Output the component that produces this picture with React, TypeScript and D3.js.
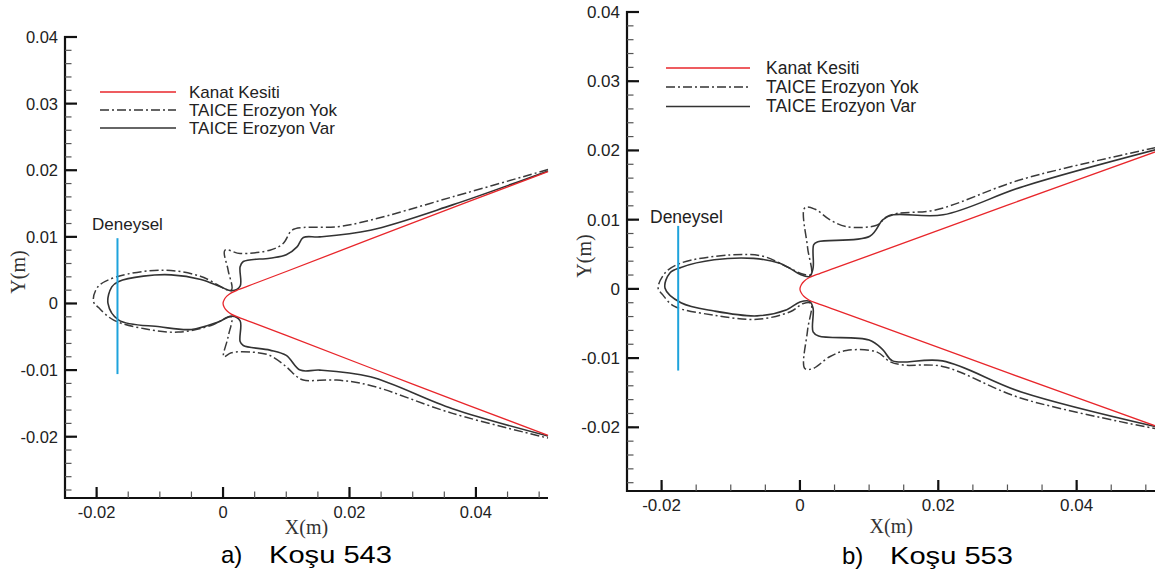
import React from 'react';
import * as d3 from 'd3';

type Pt = [number, number];

// eksenler
const xDomain: Pt = [-0.025, 0.0514];
const yDomain: Pt = [-0.0292, 0.04];
const xTicks = [-0.02, 0, 0.02, 0.04];
const xTickLabels = ['-0.02', '0', '0.02', '0.04'];
const yTicks = [0.04, 0.03, 0.02, 0.01, 0, -0.01, -0.02];
const yTickLabels = ['0.04', '0.03', '0.02', '0.01', '0', '-0.01', '-0.02'];
const legendLabels = ['Kanat Kesiti', 'TAICE Erozyon Yok', 'TAICE Erozyon Var'];

// kanat kesiti (iki panelde ayni)
const kanatKesiti: Pt[] = [
  [0.0514, 0.0198], [0.03, 0.0121], [0.01, 0.0048], [0.005, 0.003], [0.0025, 0.0021],
  [0.0013, 0.0016], [0.0006, 0.0011], [0.0002, 0.0006], [0, 0],
  [0.0002, -0.0006], [0.0006, -0.0011], [0.0013, -0.0016], [0.0025, -0.0021],
  [0.005, -0.003], [0.01, -0.0048], [0.03, -0.0121], [0.0514, -0.0198],
];

// Kosu 543
const yok543: Pt[] = [
  [0.0514, 0.0201], [0.0363, 0.016], [0.0233, 0.0125], [0.018, 0.0115], [0.0127, 0.0114],
  [0.0109, 0.011], [0.0095, 0.009], [0.0074, 0.008], [0.0027, 0.0075], [0.0003, 0.008],
  [0.0008, 0.005], [0.0013, 0.002],
  [-0.0036, 0.0041], [-0.0094, 0.005], [-0.0168, 0.004], [-0.0198, 0.0025], [-0.0205, 0.0003],
  [-0.0197, -0.0006], [-0.0173, -0.0025], [-0.0124, -0.0038], [-0.0071, -0.0043],
  [-0.0019, -0.0033], [0.0013, -0.002],
  [0.0008, -0.005], [0.0001, -0.008], [0.0013, -0.0074], [0.0045, -0.0073], [0.0074, -0.0078],
  [0.01, -0.0095], [0.0117, -0.011], [0.0127, -0.0115], [0.018, -0.0115], [0.0233, -0.0123],
  [0.0363, -0.0165], [0.0514, -0.0202],
];
const var543: Pt[] = [
  [0.0514, 0.0199], [0.0363, 0.0148], [0.0233, 0.011], [0.0153, 0.01], [0.0127, 0.0099],
  [0.0117, 0.0085], [0.01, 0.0073], [0.0074, 0.0068], [0.0032, 0.0063], [0.0027, 0.0055],
  [0.0027, 0.0026], [0.0014, 0.0019],
  [-0.0004, 0.0025], [-0.0035, 0.0036], [-0.0082, 0.0043], [-0.0126, 0.0041], [-0.0165, 0.0033],
  [-0.0176, 0.0025], [-0.0182, 0.0], [-0.0165, -0.0025], [-0.01, -0.0035], [-0.005, -0.0039],
  [-0.0008, -0.0028], [0.0014, -0.0019],
  [0.0027, -0.0026], [0.0027, -0.0057], [0.0032, -0.0063], [0.0074, -0.007], [0.01, -0.0078],
  [0.0122, -0.01], [0.0153, -0.01], [0.0233, -0.011], [0.0363, -0.0158], [0.0514, -0.0199],
];
const deneysel543 = { x: -0.0167, y: [-0.0106, 0.0098] };

// Kosu 553
const yok553: Pt[] = [
  [0.0514, 0.0204], [0.032, 0.0158], [0.0196, 0.0114], [0.014, 0.0109], [0.0125, 0.0104],
  [0.0111, 0.0092], [0.0067, 0.009], [0.0043, 0.01], [0.0022, 0.0115], [0.0007, 0.0117],
  [0.0011, 0.006], [0.0016, 0.0021],
  [0.0005, 0.0021], [-0.0019, 0.0032], [-0.0053, 0.0047], [-0.0101, 0.0049], [-0.0173, 0.0037],
  [-0.0195, 0.0023], [-0.0205, 0.0001], [-0.0198, -0.0009], [-0.0182, -0.0025],
  [-0.0124, -0.0038], [-0.0062, -0.0044], [-0.0014, -0.0033], [0.0005, -0.0021], [0.0016, -0.0021],
  [0.0011, -0.006], [0.0007, -0.0115], [0.0019, -0.0115], [0.0043, -0.0098], [0.0067, -0.0089],
  [0.0111, -0.0091], [0.013, -0.0105], [0.0149, -0.011], [0.0206, -0.0112], [0.032, -0.0158],
  [0.0514, -0.0202],
];
const var553: Pt[] = [
  [0.0514, 0.0201], [0.0323, 0.0148], [0.0207, 0.0107], [0.0135, 0.0107], [0.012, 0.01],
  [0.0101, 0.0076], [0.0026, 0.0068], [0.002, 0.0064], [0.0019, 0.003], [0.0014, 0.0018],
  [0.0, 0.0021], [-0.0015, 0.003], [-0.0029, 0.0037], [-0.0067, 0.0044], [-0.0124, 0.0042],
  [-0.0172, 0.0031], [-0.0188, 0.0023], [-0.0195, 0.0001], [-0.0172, -0.002], [-0.0124, -0.0032],
  [-0.0062, -0.0039], [-0.0019, -0.003], [0.0, -0.0019], [0.0014, -0.0018],
  [0.0019, -0.0028], [0.0019, -0.0062], [0.0027, -0.0068], [0.01, -0.0074], [0.012, -0.0088],
  [0.0134, -0.0104], [0.0206, -0.0104], [0.032, -0.0149], [0.0514, -0.0199],
];
const deneysel553 = { x: -0.0176, y: [-0.0118, 0.0091] };

const sans = '"Liberation Sans", Arial, sans-serif';
const serif = '"Liberation Serif", "Times New Roman", serif';
const textColor = '#222';

const Panel = ({ L, yok, vari, deneysel, caption, run }: any) => {
  const xScale = d3.scaleLinear().domain(xDomain).range([L.x0, L.x1]);
  const yScale = d3.scaleLinear().domain(yDomain).range([L.y1, L.y0]);
  const line = d3.line<Pt>()
    .x(d => xScale(d[0]))
    .y(d => yScale(d[1]))
    .curve(d3.curveCatmullRom.alpha(0.5));

  const xMinor = d3.range(-0.025, xDomain[1], 0.005).filter(v => v > xDomain[0] + 1e-6);
  const yMinor = d3.range(-0.028, 0.04001, 0.002);

  const legendStyles = [
    { stroke: '#e8262b', dash: undefined, w: 1.3 },
    { stroke: '#333', dash: '9,3,2,3', w: 1.5 },
    { stroke: '#333', dash: undefined, w: 1.5 },
  ];

  return (
    <g>
      {/* egriler */}
      <path d={line(yok) || ''} fill="none" stroke="#3a3a3a" strokeWidth={1.5} strokeDasharray="9,3,2,3" />
      <path d={line(vari) || ''} fill="none" stroke="#333" strokeWidth={1.6} />
      <path d={line(kanatKesiti) || ''} fill="none" stroke="#e8262b" strokeWidth={1.3} />
      <line
        x1={xScale(deneysel.x)} x2={xScale(deneysel.x)}
        y1={yScale(deneysel.y[1])} y2={yScale(deneysel.y[0])}
        stroke="#1ea3dc" strokeWidth={2}
      />
      <text x={L.denX} y={L.denY} fontFamily={sans} fontSize={L.fs} fill={textColor}>Deneysel</text>

      {/* eksenler */}
      <line x1={L.x0} x2={L.x0} y1={L.y0 - 1} y2={L.y1 + 1} stroke="#111" strokeWidth={2.2} />
      <line x1={L.x0 - 1} x2={L.x1} y1={L.y1} y2={L.y1} stroke="#111" strokeWidth={2.2} />
      {yMinor.map(v => (
        <line key={'ym' + v} x1={L.x0} x2={L.x0 + 6.5} y1={yScale(v)} y2={yScale(v)} stroke="#555" strokeWidth={1.2} />
      ))}
      {xMinor.map(v => (
        <line key={'xm' + v} x1={xScale(v)} x2={xScale(v)} y1={L.y1} y2={L.y1 - 6.5} stroke="#555" strokeWidth={1.2} />
      ))}
      {yTicks.map((v, i) => (
        <g key={'yt' + v}>
          <line x1={L.x0 - 1} x2={L.x0 + 12} y1={yScale(v)} y2={yScale(v)} stroke="#111" strokeWidth={2.2} />
          <text x={L.x0 - 7} y={yScale(v) + 6} textAnchor="end" fontFamily={sans} fontSize={L.tfs} fill={textColor}>
            {yTickLabels[i]}
          </text>
        </g>
      ))}
      {xTicks.map((v, i) => (
        <g key={'xt' + v}>
          <line x1={xScale(v)} x2={xScale(v)} y1={L.y1} y2={L.y1 - 11} stroke="#111" strokeWidth={2.2} />
          <text x={xScale(v)} y={L.y1 + 20} textAnchor="middle" fontFamily={sans} fontSize={L.tfs} fill={textColor}>
            {xTickLabels[i]}
          </text>
        </g>
      ))}
      <text x={(L.x0 + L.x1) / 2} y={L.y1 + L.xLabDy} textAnchor="middle" fontFamily={serif} fontSize={20} fill="#333">X(m)</text>
      <text
        transform={`translate(${L.yLabX},${L.yLabY}) rotate(-90)`}
        textAnchor="middle" dominantBaseline="central"
        fontFamily={serif} fontSize={20} fill="#333"
      >Y(m)</text>

      {/* lejant */}
      {legendLabels.map((lab, i) => (
        <g key={lab}>
          <line
            x1={L.legX0} x2={L.legX1} y1={L.legY[i]} y2={L.legY[i]}
            stroke={legendStyles[i].stroke} strokeWidth={legendStyles[i].w}
            strokeDasharray={legendStyles[i].dash}
          />
          <text x={L.legTx} y={L.legY[i] + 5.5} fontFamily={sans} fontSize={L.fs} fill={textColor}>{lab}</text>
        </g>
      ))}

      {/* baslik */}
      <text x={L.capX} y={L.capY} fontFamily={sans} fontSize={24} fill="#000">{caption}</text>
      <text x={L.capX + 48} y={L.capY} fontFamily={sans} fontSize={24} fill="#000"
        textLength={123} lengthAdjust="spacingAndGlyphs">{run}</text>
    </g>
  );
};

const leftLayout = {
  x0: 65, x1: 548, y0: 37, y1: 498,
  fs: 17, tfs: 16.5, xLabDy: 36, yLabX: 18, yLabY: 272,
  legX0: 100, legX1: 176, legY: [92, 110, 128], legTx: 189,
  denX: 92, denY: 230, capX: 221, capY: 563,
};
const rightLayout = {
  x0: 627, x1: 1155.5, y0: 12, y1: 491,
  fs: 17.5, tfs: 17, xLabDy: 42, yLabX: 584, yLabY: 256,
  legX0: 666, legX1: 750, legY: [68, 87, 106.5], legTx: 766,
  denX: 650, denY: 222.5, capX: 842, capY: 564,
};

export default function App() {
  return (
    <svg width={1155} height={577} style={{ position: 'absolute', left: 0, top: 0, background: '#fff' }}>
      <rect width={1155} height={577} fill="#fff" />
      <Panel L={leftLayout} yok={yok543} vari={var543} deneysel={deneysel543} caption="a)" run="Koşu 543" />
      <Panel L={rightLayout} yok={yok553} vari={var553} deneysel={deneysel553} caption="b)" run="Koşu 553" />
    </svg>
  );
}
